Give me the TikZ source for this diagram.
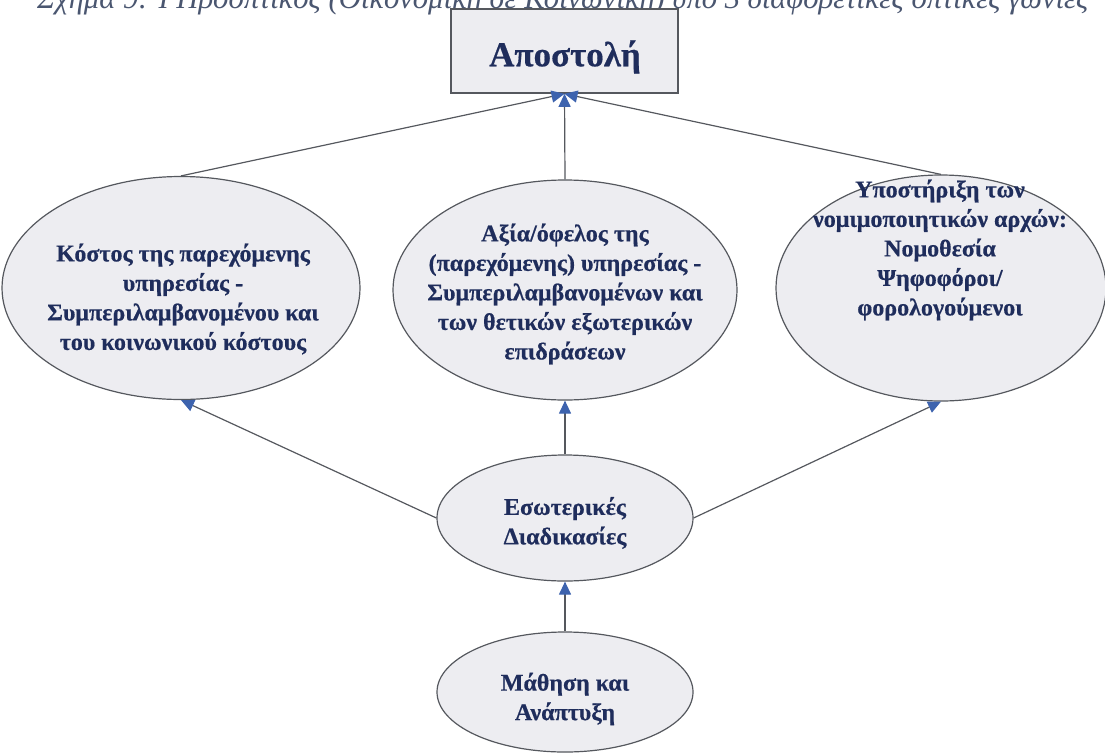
\documentclass[tikz,border=0pt]{standalone}
\usepackage{graphicx}
\usepackage{fontspec}
\setmainfont{Liberation Serif}
\newfontfamily\heavyfont{Liberation Serif}[UprightFont=*-Bold, FakeBold=0.5]
\usetikzlibrary{shapes.geometric,arrows.meta}
\definecolor{txt}{HTML}{1F2D5C}
\definecolor{capc}{HTML}{4A5670}
\definecolor{fillg}{HTML}{EDEDF1}
\definecolor{edgec}{HTML}{55585E}
\definecolor{arrowb}{HTML}{3D63AE}
\begin{document}
\begin{tikzpicture}[x=1pt,y=-1pt,
  oval/.style={ellipse, draw=edgec, fill=fillg, line width=1.2pt, inner sep=0pt},
  boxst/.style={rectangle, draw=edgec, fill=fillg, line width=1.6pt, inner sep=0pt, minimum width=227pt, minimum height=84pt},
  lbl/.style={text=txt, font=\heavyfont\fontsize{24}{29.5}\selectfont, align=center, inner sep=0pt},
  conn/.style={draw=edgec, line width=1.2pt, -{Triangle[length=13pt,width=12pt,color=arrowb]}}
]
\useasboundingbox (0,0) rectangle (1105,753);
\clip (0,0) rectangle (1105,753);
\node[anchor=base west, text=capc, inner sep=0pt] (cap) at (37,8) {\resizebox{1051pt}{!}{\itshape Σχήμα 9: Ι Προοπτικός (Οικονομική σε Κοινωνική) υπό 3 διαφορετικές οπτικές γωνίες}};
\node[boxst] (A) at (564.5,51) {};
\node[text=txt, font=\heavyfont\fontsize{35}{40}\selectfont, inner sep=0pt] (tA) at (565,57) {Αποστολή};
\node[oval, minimum width=358pt, minimum height=223pt] (L) at (181,288) {};
\node[oval, minimum width=344pt, minimum height=220pt] (M) at (565,290) {};
\node[oval, minimum width=330pt, minimum height=226pt] (R) at (941,288) {};
\node[oval, minimum width=256pt, minimum height=126pt] (E) at (565,518) {};
\node[oval, minimum width=256pt, minimum height=120pt] (D) at (565,692) {};
\node[lbl] (tL) at (183,299) {Κόστος της παρεχόμενης\\υπηρεσίας -\\Συμπεριλαμβανομένου και\\του κοινωνικού κόστους};
\node[lbl] (tM) at (565,294) {Αξία/όφελος της\\(παρεχόμενης) υπηρεσίας -\\Συμπεριλαμβανομένων και\\των θετικών εξωτερικών\\επιδράσεων};
\node[lbl] (tR) at (940,250) {Υποστήριξη των\\νομιμοποιητικών αρχών:\\Νομοθεσία\\Ψηφοφόροι/\\φορολογούμενοι};
\node[lbl] (tE) at (565,523) {Εσωτερικές\\Διαδικασίες};
\node[lbl] (tD) at (565,699) {Μάθηση και\\Ανάπτυξη};
\draw[conn] (L.north) -- (A.south);
\draw[conn] (M.north) -- (A.south);
\draw[conn] (R.north) -- (A.south);
\draw[conn] (E.west) -- (L.south);
\draw[conn] (E.north) -- (M.south);
\draw[conn] (E.east) -- (R.south);
\draw[conn] (D.north) -- (E.south);
\end{tikzpicture}
\end{document}
